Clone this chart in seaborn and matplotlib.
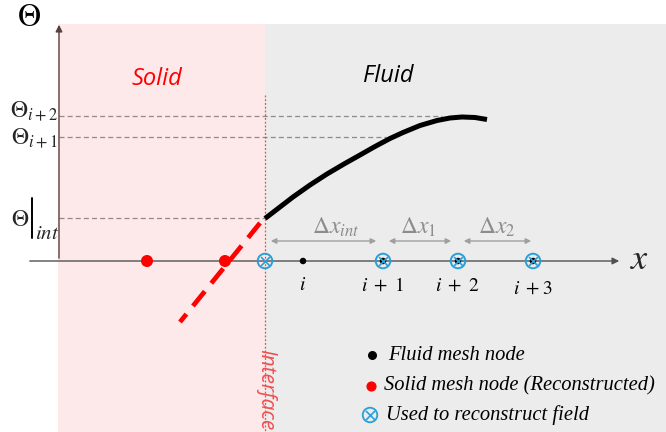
import numpy as np
import pandas as pd
import matplotlib
matplotlib.use("Agg")
import matplotlib.pyplot as plt
import seaborn as sns

# ---------------- data (schematic coordinates, pixel-like units) ----------------
interface_x = 265
axis_y = 261
fluid_nodes_x = [303, 383, 458, 533]
fluid_labels = [r"$i$", r"$i\ +\ 1$", r"$i\ +\ 2$", r"$i\ +3$"]
solid_nodes_x = [147, 225]
recon_nodes_x = [265, 383, 458, 533]
curve_x = [265, 280, 293, 310, 327, 344, 360, 375, 390, 403, 420, 437, 450, 462, 475, 487]
curve_y = [218.5, 207, 197, 185, 174, 164, 155, 146.5, 138.5, 132.5, 125.5, 120.5, 118, 117, 117.5, 119.5]
extrap_x = [260, 180]
extrap_y = [223, 322]
theta_levels = [116, 137, 218]
theta_ends = [442, 386, 265]
theta_labels = [r"$\Theta_{i+2}$", r"$\Theta_{i+1}$", r"$\Theta$", r"$int$"]
dx_starts = [268, 386, 461]
dx_ends = [379, 454, 534]
dx_labels = [r"$\Delta x_{int}$", r"$\Delta x_1$", r"$\Delta x_2$"]
legend_labels = ["Fluid mesh node", "Solid mesh node (Reconstructed)", "Used to reconstruct field"]

W, H = 666, 432
sns.set_theme(style="white")
plt.rcParams["font.family"] = ["DejaVu Sans"]
plt.rcParams["mathtext.fontset"] = "stix"

fig = plt.figure(figsize=(6.66, 4.32), dpi=100)
ax = fig.add_axes([0, 0, 1, 1])
ax.set_xlim(0, W)
ax.set_ylim(H, 0)
ax.axis("off")

# background regions
ax.add_patch(plt.Rectangle((58, 24), interface_x - 58, H - 24, color="#fde9ea", zorder=0, lw=0))
ax.add_patch(plt.Rectangle((interface_x, 24), W - interface_x, H - 24, color="#ececec", zorder=0, lw=0))

# interface line
ax.plot([interface_x, interface_x], [95, H], ls=(0, (1.5, 1.5)), color="#f04a4a", lw=0.9, zorder=1)

# axes arrows
ax.annotate("", xy=(59, 22), xytext=(59, axis_y), arrowprops=dict(arrowstyle="-|>", color="#5a3d3d", lw=1.0, mutation_scale=10), zorder=2)
ax.annotate("", xy=(622, axis_y), xytext=(27, axis_y), arrowprops=dict(arrowstyle="-|>", color="#505050", lw=1.0, mutation_scale=10), zorder=2)

# horizontal reference lines
for lvl, end in zip(theta_levels, theta_ends):
    ax.plot([59, end], [lvl, lvl], ls=(0, (4, 2.5)), color="#7a7070", lw=0.9, alpha=0.8, zorder=1)

# curves
df_curve = pd.DataFrame({"x": curve_x, "y": curve_y})
sns.lineplot(data=df_curve, x="x", y="y", ax=ax, color="black", lw=3.6, sort=False, estimator=None, zorder=3)
ax.lines[-1].set_solid_capstyle("butt")
ax.lines[-1].set_solid_joinstyle("round")
df_ext = pd.DataFrame({"x": extrap_x, "y": extrap_y})
sns.lineplot(data=df_ext, x="x", y="y", ax=ax, color="#ff0000", lw=3.4, sort=False, estimator=None,
             zorder=3)
ax.lines[-1].set_linestyle((0, (4, 2.2)))

# nodes
df_fluid = pd.DataFrame({"x": fluid_nodes_x, "y": [axis_y] * len(fluid_nodes_x)})
sns.scatterplot(data=df_fluid, x="x", y="y", ax=ax, color="black", s=22, edgecolor="none", zorder=5)
df_solid = pd.DataFrame({"x": solid_nodes_x, "y": [axis_y] * len(solid_nodes_x)})
sns.scatterplot(data=df_solid, x="x", y="y", ax=ax, color="#ff0000", s=75, edgecolor="none", zorder=5)
df_rec = pd.DataFrame({"x": recon_nodes_x, "y": [axis_y] * len(recon_nodes_x)})
sns.scatterplot(data=df_rec, x="x", y="y", ax=ax, marker="o", s=110, facecolor="none", edgecolor="#2a9fd8", linewidth=1.4, zorder=6)
sns.scatterplot(data=df_rec, x="x", y="y", ax=ax, marker="x", s=40, color="#2a9fd8", linewidth=1.2, zorder=6)

# node labels
for xx, lab in zip(fluid_nodes_x, fluid_labels):
    ax.text(xx, 285 if lab != fluid_labels[-1] else 288, lab, ha="center", va="center", fontsize=14, color="black")

# delta-x arrows and labels
for x0, x1, lab in zip(dx_starts, dx_ends, dx_labels):
    ax.annotate("", xy=(x1, 241), xytext=(x0, 241),
                arrowprops=dict(arrowstyle="<|-|>", color="#a0a0a0", lw=1.0, mutation_scale=8))
dx_text_x = [336, 418, 497]
for tx, lab in zip(dx_text_x, dx_labels):
    ax.text(tx, 227, lab, ha="center", va="center", fontsize=17, color="#8c8c8c")

# theta labels
ax.text(29, 18, r"$\Theta$", fontsize=23, ha="center", va="center", color="black")
ax.text(34, 111, theta_labels[0], fontsize=17, ha="center", va="center")
ax.text(34, 138, theta_labels[1], fontsize=17, ha="center", va="center")
ax.text(20, 219, theta_labels[2], fontsize=17, ha="center", va="center")
ax.plot([32, 32], [198, 238], color="black", lw=1.4)
ax.text(47, 233, theta_labels[3], fontsize=15, ha="center", va="center")
ax.text(640, 259, r"$x$", fontsize=26, ha="center", va="center")

# region titles
ax.text(157, 79, "Solid", fontsize=17, style="italic", color="#ff0000", ha="center", va="center",
        family=["Open Sans", "DejaVu Sans"])
ax.text(388, 76, "Fluid", fontsize=17, style="italic", color="black", ha="center", va="center",
        family=["Open Sans", "DejaVu Sans"])
ax.text(266, 390, "Interface", fontsize=15, style="italic", color="#f05050", rotation=270,
        ha="center", va="center", family=["Open Sans", "DejaVu Sans"])

# legend
leg_y = [355, 386, 415]
ax.scatter([372], [leg_y[0]], s=30, color="black", zorder=5)
ax.scatter([371], [leg_y[1]], s=40, color="#ff0000", zorder=5)
ax.scatter([370], [leg_y[2]], s=110, facecolor="none", edgecolor="#2a9fd8", linewidth=1.3, zorder=5)
ax.scatter([370], [leg_y[2]], s=45, marker="x", color="#2a9fd8", linewidth=1.2, zorder=5)
leg_x = [388, 384, 386]
for xx, yy, lab in zip(leg_x, leg_y, legend_labels):
    ax.text(xx, yy, lab, fontsize=14.8, style="italic", family=["Liberation Serif", "DejaVu Serif"],
            ha="left", va="center", color="black")

fig.savefig("out.png", dpi=100)
